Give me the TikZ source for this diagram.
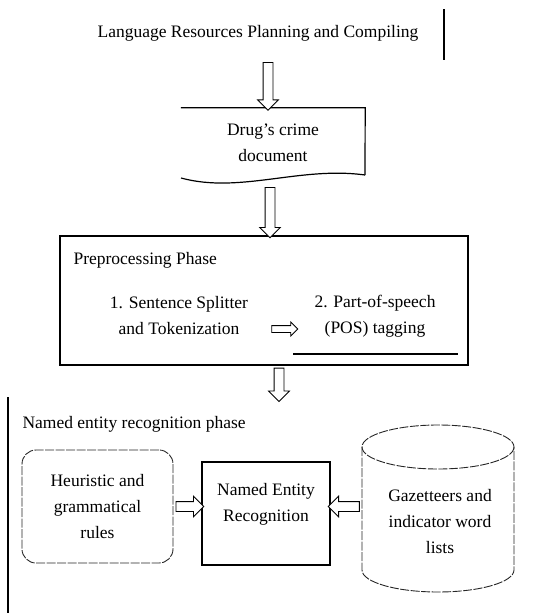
\documentclass[tikz,border=0pt]{standalone}
\usepackage{fontspec}
\setmainfont{Liberation Serif}
\usetikzlibrary{positioning,calc,shapes.arrows}

\tikzset{
  every node/.style={font=\fontsize{17.5}{26}\selectfont},
  frame/.style={draw, line width=1.3pt},
  softline/.style={draw=black!85, line width=0.9pt, dash pattern=on 9pt off 1.5pt},
  blockarrow/.style={single arrow, draw, fill=white, line width=0.8pt, inner xsep=0pt,
    inner ysep=4.5pt, single arrow head extend=5.5pt, single arrow head indent=0pt},
  hollow/.style={to path={let \p1=(\tikztostart), \p2=(\tikztotarget),
      \n1={veclen(\x2-\x1,\y2-\y1)}, \n2={atan2(\y2-\y1,\x2-\x1)} in
      ($(\p1)!0.5!(\p2)$) node[blockarrow, minimum height=\n1, rotate=\n2, #1] {}}},
  hollow/.default={}
}

\begin{document}
\begin{tikzpicture}[x=1pt,y=-1pt]
\useasboundingbox (0,0) rectangle (539,613);

% planning and the document
\node (title) at (258,33) {Language Resources Planning and Compiling};
\draw[line width=1.3pt] (444,9) -- (444,60);
\coordinate (t0) at (268,60);
\node[align=center, minimum width=184, minimum height=70] (doc) at (273,143) {Drug's crime\\document};
\draw[line width=1.2pt] (doc.north west) -- (doc.north east) -- (365,175);
\draw[line width=1.2pt] (365,175) .. controls (300,166) and (240,194) .. (181,178);
\coordinate (d0) at (270,185);

% preprocessing
\node[frame, minimum width=408, minimum height=129] (pre) at (264,300.5) {};
\node[anchor=west] (prelbl) at (70,260) {Preprocessing Phase};
\node[align=center] (split) at (179,316) {1. Sentence Splitter\\and Tokenization};
\node[align=center] (pos) at (375,316) {2. Part-of-speech\\(POS) tagging};
\draw[line width=1.2pt] (293,354) -- (458,354);
\coordinate (p1) at (270,329);
\coordinate (p2) at (296,329);

% named entity recognition
\coordinate (n0) at (279,399);
\draw[line width=1.3pt] (8,397) -- (8,613);
\node[anchor=west] (nerlbl) at (19,424) {Named entity recognition phase};
\node[softline, rounded corners=14, minimum width=151, minimum height=113, align=center] (rules) at (97.5,506.5) {Heuristic and\\grammatical\\rules};
\node[frame, minimum width=128, minimum height=103] (ner) at (266,513.5) {};
\node[align=center] (nertxt) at (266,504) {Named Entity\\Recognition};
\node[minimum width=152, minimum height=167] (gaz) at (438,508.5) {};
\draw[softline] (438,447) ellipse [x radius=76, y radius=22];
\draw[softline] (362,447) -- (362,570) arc[start angle=180, end angle=0, x radius=76, y radius=22] -- (514,447);
\node[align=center] (gaztxt) at (440,522) {Gazetteers and\\indicator word\\lists};

% hollow arrows
\path (t0) to[hollow] (doc.north -| t0);
\path (d0) to[hollow] (pre.north -| d0);
\path (pre.south -| n0) to[hollow] (n0);
\path (p1) to[hollow={inner ysep=3pt, single arrow head extend=3.5pt}] (p2);
\path (rules.east) to[hollow] (rules.east -| ner.west);
\path (rules.east -| gaz.west) to[hollow] (rules.east -| ner.east);
\end{tikzpicture}
\end{document}
